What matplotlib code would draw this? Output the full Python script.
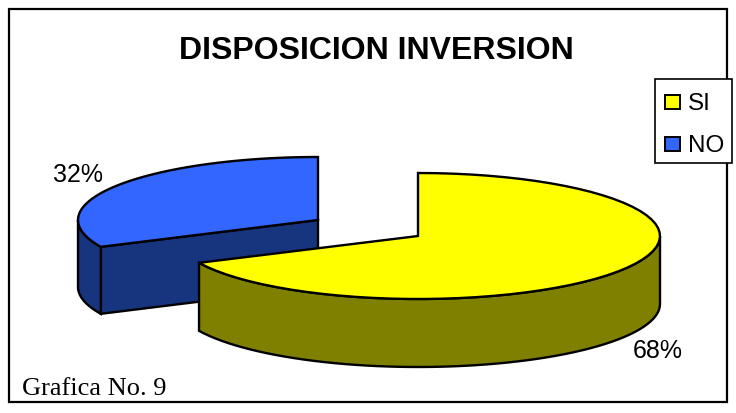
import numpy as np
import matplotlib
matplotlib.use('Agg')
import matplotlib.pyplot as plt
from matplotlib.patches import Polygon, Rectangle

title = 'DISPOSICION INVERSION'
note = 'Grafica No. 9'
categories = ['SI', 'NO']
shares = [68, 32]

YELLOW = '#ffff00'
YELLOW_DARK = '#808000'
BLUE = '#3366ff'
BLUE_DARK = '#17347f'
LW = 1.7


def arc(cx, cy, rx, ry, a0, a1, n=60):
    t = np.radians(np.linspace(a0, a1, n))
    return np.column_stack([cx + rx * np.cos(t), cy - ry * np.sin(t)])


def draw_slice(ax, cx, cy, rx, ry, depth, a_lo, a_hi, top, side, cut_faces=()):
    down = np.array([0, depth])
    centre = np.array([[cx, cy]])
    # cut faces go under the outer wall
    for a in cut_faces:
        p = arc(cx, cy, rx, ry, a, a, 1)
        face = np.vstack([centre, p, p + down, centre + down])
        ax.add_patch(Polygon(face, fc=side, ec='k', lw=LW))
    # outer wall, only the front half of the ellipse shows
    lo, hi = max(a_lo, -180), min(a_hi, 0)
    if hi > lo:
        front = arc(cx, cy, rx, ry, lo, hi)
        wall = np.vstack([front, front[::-1] + down])
        ax.add_patch(Polygon(wall, fc=side, ec='k', lw=LW))
    outer = arc(cx, cy, rx, ry, a_lo, a_hi)
    ax.add_patch(Polygon(np.vstack([centre, outer]), fc=top, ec='k', lw=LW))


plt.rcParams['font.family'] = ['Liberation Sans']
fig = plt.figure(figsize=(7.36, 4.14), dpi=100)
ax = fig.add_axes([0, 0, 1, 1])
ax.set_xlim(0, 736)
ax.set_ylim(414, 0)
ax.axis('off')

ax.add_patch(Rectangle((8.5, 9.5), 718, 393.5, fc='white', ec='k', lw=1.6))

# slices start at 12 o'clock and run clockwise
split = 90 - shares[0] / sum(shares) * 360

# NO slice is pulled out to the left, drawn first
draw_slice(ax, 318, 221, 240, 63, 67, -270, split, BLUE, BLUE_DARK, cut_faces=[split])
draw_slice(ax, 418, 237, 242, 63, 68, split, 90, YELLOW, YELLOW_DARK)

ax.text(376, 51, title, ha='center', va='center', fontsize=23, fontweight='bold', color='k')
ax.text(77.5, 175, f'{shares[1]}%', ha='center', va='center', fontsize=18, color='k')
ax.text(657.5, 351, f'{shares[0]}%', ha='center', va='center', fontsize=18, color='k')
ax.text(22, 389, note, ha='left', va='center', fontsize=19, family='Liberation Serif', color='k')

# legend
ax.add_patch(Rectangle((654.5, 79.5), 77, 84, fc='white', ec='k', lw=1.2, zorder=3))
for y, name, col in zip([102.5, 144.5], categories, [YELLOW, BLUE]):
    ax.add_patch(Rectangle((665, y - 7), 14.5, 14.5, fc=col, ec='k', lw=1.4, zorder=4))
    ax.text(688, y + 2, name, ha='left', va='center', fontsize=17.5, color='k', zorder=4)

fig.savefig('out.png', dpi=100)
plt.close(fig)
